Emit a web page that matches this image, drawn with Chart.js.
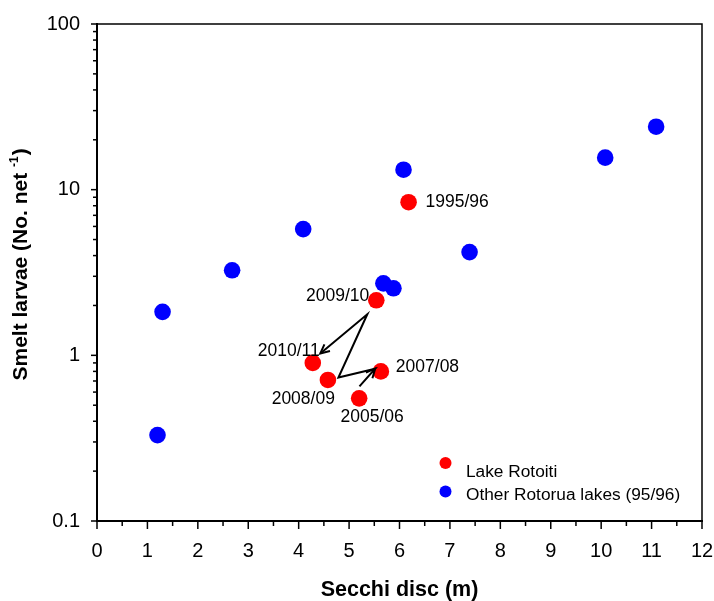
<!DOCTYPE html>
<html>
<head>
<meta charset="utf-8">
<script src="https://cdn.jsdelivr.net/npm/chart.js@4.4.1/dist/chart.umd.min.js"></script>
<style>
html, body { margin: 0; padding: 0; background: #fff; }
</style>
</head>
<body>
<canvas id="chart" width="714" height="601"></canvas>
<script>
// datos
const rotoitiYears = ["1995/96", "2005/06", "2007/08", "2008/09", "2009/10", "2010/11"];
const rotoitiSecchi = [6.18, 5.20, 5.63, 4.58, 5.54, 4.28];
const rotoitiLarvae = [8.4, 0.55, 0.80, 0.71, 2.15, 0.90];

const otherSecchi = [1.20, 1.30, 2.68, 4.09, 5.68, 5.88, 6.08, 7.39, 10.08, 11.09];
const otherLarvae = [0.33, 1.83, 3.26, 5.78, 2.72, 2.54, 13.2, 4.2, 15.6, 24.0];

const seriesNames = ["Lake Rotoiti", "Other Rotorua lakes (95/96)"];
const xTickValues = [0, 1, 2, 3, 4, 5, 6, 7, 8, 9, 10, 11, 12];
const yTickValues = [0.1, 1, 10, 100];

const FONT = "'Liberation Sans', Arial, Helvetica, sans-serif";

// etiquetas de los años (desplazamiento en px desde el punto)
const labelSpots = {
  "1995/96": { dx: 17, dy: 0, align: "left" },
  "2005/06": { dx: 13, dy: 19, align: "center" },
  "2007/08": { dx: 15, dy: -4, align: "left" },
  "2008/09": { dx: 7, dy: 19, align: "right" },
  "2009/10": { dx: -7, dy: -4, align: "right" },
  "2010/11": { dx: 7, dy: -12, align: "right" },
};

// camino de flechas entre años
const arrowPath = ["2005/06", "2007/08", "2008/09", "2009/10", "2010/11"];
const arrowOffsets = {
  "2005/06": [0.3, -12],
  "2007/08": [-5.7, -2.7],
  "2008/09": [10.5, -2.5],
  "2009/10": [-9, 14],
  "2010/11": [7.5, -9.5],
};
const arrowHeads = ["2007/08", "2010/11"];

const rotoitiPoints = rotoitiSecchi.map((x, i) => ({ x: x, y: rotoitiLarvae[i] }));
const otherPoints = otherSecchi.map((x, i) => ({ x: x, y: otherLarvae[i] }));

// marcas de los ejes, marco, titulo Y, leyenda y anotaciones
const decorPlugin = {
  id: "decor",
  afterDraw(chart) {
    const ctx = chart.ctx;
    const area = chart.chartArea;
    const xs = chart.scales.x;
    const ys = chart.scales.y;
    ctx.save();
    ctx.strokeStyle = "#000";

    // marco superior y derecho
    ctx.lineWidth = 1.5;
    ctx.beginPath();
    ctx.moveTo(area.left, area.top);
    ctx.lineTo(area.right, area.top);
    ctx.lineTo(area.right, area.bottom);
    ctx.stroke();

    // marcas del eje x
    ctx.lineWidth = 1.5;
    for (let v = 0; v <= 12; v += 0.5) {
      const px = xs.getPixelForValue(v);
      const len = Number.isInteger(v) ? 8 : 5;
      ctx.beginPath();
      ctx.moveTo(px, area.bottom);
      ctx.lineTo(px, area.bottom + len);
      ctx.stroke();
    }
    // marcas del eje y (log)
    [0.1, 1, 10].forEach((d) => {
      for (let k = 1; k <= 9; k++) {
        const py = ys.getPixelForValue(k * d);
        const len = k === 1 ? 6 : 4;
        ctx.beginPath();
        ctx.moveTo(area.left - len, py);
        ctx.lineTo(area.left, py);
        ctx.stroke();
      }
    });
    const pTop = ys.getPixelForValue(100);
    ctx.beginPath();
    ctx.moveTo(area.left - 6, pTop);
    ctx.lineTo(area.left, pTop);
    ctx.stroke();

    // titulo del eje y con superindice
    ctx.save();
    ctx.translate(21.5, 380.5);
    ctx.rotate(-Math.PI / 2);
    ctx.fillStyle = "#000";
    ctx.textAlign = "left";
    ctx.textBaseline = "middle";
    ctx.font = "bold 21px " + FONT;
    const main = "Smelt larvae (No. net ";
    ctx.fillText(main, 0, 0);
    const w1 = ctx.measureText(main).width;
    ctx.font = "bold 12px " + FONT;
    ctx.fillText("-1", w1, -7);
    const w2 = ctx.measureText("-1").width;
    ctx.font = "bold 21px " + FONT;
    ctx.fillText(")", w1 + w2 + 1, 0);
    ctx.restore();

    // leyenda
    const legendRows = [
      { color: chart.data.datasets[0].backgroundColor, text: seriesNames[0], dotY: 463, textY: 472.5 },
      { color: chart.data.datasets[1].backgroundColor, text: seriesNames[1], dotY: 491.5, textY: 495 },
    ];
    ctx.font = "17.3px " + FONT;
    ctx.textAlign = "left";
    ctx.textBaseline = "middle";
    legendRows.forEach((r) => {
      ctx.fillStyle = r.color;
      ctx.beginPath();
      ctx.arc(445.5, r.dotY, 6, 0, Math.PI * 2);
      ctx.fill();
      ctx.fillStyle = "#000";
      ctx.fillText(r.text, 466, r.textY);
    });

    // etiquetas de años
    const meta = chart.getDatasetMeta(0);
    const pos = {};
    rotoitiYears.forEach((yr, i) => {
      pos[yr] = { x: meta.data[i].x, y: meta.data[i].y };
    });
    ctx.fillStyle = "#000";
    ctx.font = "17.5px " + FONT;
    ctx.textBaseline = "middle";
    rotoitiYears.forEach((yr) => {
      const s = labelSpots[yr];
      ctx.textAlign = s.align;
      ctx.fillText(yr, pos[yr].x + s.dx, pos[yr].y + s.dy);
    });

    // flechas
    const verts = arrowPath.map((yr) => ({
      yr: yr,
      x: pos[yr].x + arrowOffsets[yr][0],
      y: pos[yr].y + arrowOffsets[yr][1],
    }));
    ctx.lineWidth = 2;
    ctx.lineJoin = "miter";
    ctx.beginPath();
    verts.forEach((v, i) => {
      if (i === 0) ctx.moveTo(v.x, v.y);
      else ctx.lineTo(v.x, v.y);
    });
    ctx.stroke();
    verts.forEach((v, i) => {
      if (i === 0 || arrowHeads.indexOf(v.yr) < 0) return;
      const p = verts[i - 1];
      const ang = Math.atan2(v.y - p.y, v.x - p.x);
      const L = 10;
      const a = 0.45;
      ctx.beginPath();
      ctx.moveTo(v.x - L * Math.cos(ang - a), v.y - L * Math.sin(ang - a));
      ctx.lineTo(v.x, v.y);
      ctx.lineTo(v.x - L * Math.cos(ang + a), v.y - L * Math.sin(ang + a));
      ctx.stroke();
    });

    ctx.restore();
  },
};

const ctx = document.getElementById("chart").getContext("2d");

new Chart(ctx, {
  type: "scatter",
  data: {
    datasets: [
      {
        label: seriesNames[0],
        data: rotoitiPoints,
        backgroundColor: "#ff0000",
        borderWidth: 0,
        pointRadius: 8.3,
        pointHoverRadius: 8.3,
      },
      {
        label: seriesNames[1],
        data: otherPoints,
        backgroundColor: "#0000ff",
        borderWidth: 0,
        pointRadius: 8.3,
        pointHoverRadius: 8.3,
      },
    ],
  },
  options: {
    responsive: false,
    animation: false,
    layout: { padding: { left: 0, top: 24, right: 12, bottom: 0 } },
    plugins: {
      legend: { display: false },
      tooltip: { enabled: false },
    },
    scales: {
      x: {
        type: "linear",
        min: 0,
        max: 12,
        afterBuildTicks: (scale) => {
          scale.ticks = xTickValues.map((v) => ({ value: v }));
        },
        afterFit: (scale) => {
          scale.height = 80;
          scale.paddingLeft = 0;
          scale.paddingRight = 0;
        },
        grid: { drawOnChartArea: false, drawTicks: false },
        border: { display: true, color: "#000", width: 2 },
        ticks: {
          color: "#000",
          font: { family: FONT, size: 20 },
          padding: 18,
          maxRotation: 0,
          autoSkip: false,
          callback: (v) => String(v),
        },
        title: {
          display: true,
          text: "Secchi disc (m)",
          color: "#000",
          font: { family: FONT, size: 21.5, weight: "bold", lineHeight: 1 },
          padding: { top: 0, bottom: 0 },
        },
      },
      y: {
        type: "logarithmic",
        min: 0.1,
        max: 100,
        afterBuildTicks: (scale) => {
          scale.ticks = yTickValues.map((v) => ({ value: v }));
        },
        afterFit: (scale) => {
          scale.width = 97;
          scale.paddingTop = 0;
          scale.paddingBottom = 0;
        },
        grid: { drawOnChartArea: false, drawTicks: false },
        border: { display: true, color: "#000", width: 2 },
        ticks: {
          color: "#000",
          font: { family: FONT, size: 20 },
          padding: 17,
          autoSkip: false,
          callback: (v) => String(v),
        },
        title: { display: false },
      },
    },
  },
  plugins: [decorPlugin],
});
</script>
</body>
</html>
